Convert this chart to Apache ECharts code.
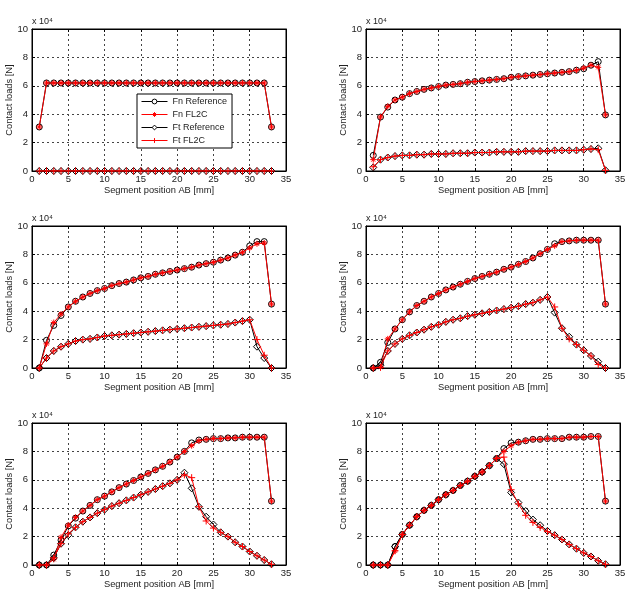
<!DOCTYPE html>
<html>
<head>
<meta charset="utf-8">
<script src="https://cdn.jsdelivr.net/npm/echarts@6/dist/echarts.min.js"></script>
<style>
  html, body { margin: 0; padding: 0; background: #fff; }
  #chart { width: 630px; height: 591px; }
</style>
</head>
<body>
<div id="chart"></div>
<script>
// segment positions along AB [mm]
const segments = [1,2,3,4,5,6,7,8,9,10,11,12,13,14,15,16,17,18,19,20,21,22,23,24,25,26,27,28,29,30,31,32,33];
const xTicks = [0, 5, 10, 15, 20, 25, 30, 35];
const yTicks = [0, 2, 4, 6, 8, 10]; // x 10^4 N

// contact loads, in units of 10^4 N
const fnRef1 = [3.1,6.2,6.2,6.2,6.2,6.2,6.2,6.2,6.2,6.2,6.2,6.2,6.2,6.2,6.2,6.2,6.2,6.2,6.2,6.2,6.2,6.2,6.2,6.2,6.2,6.2,6.2,6.2,6.2,6.2,6.2,6.2,3.1];
const fnFl2c1 = [3.1,6.2,6.2,6.2,6.2,6.2,6.2,6.2,6.2,6.2,6.2,6.2,6.2,6.2,6.2,6.2,6.2,6.2,6.2,6.2,6.2,6.2,6.2,6.2,6.2,6.2,6.2,6.2,6.2,6.2,6.2,6.2,3.1];
const ftRef1 = [0,0,0,0,0,0,0,0,0,0,0,0,0,0,0,0,0,0,0,0,0,0,0,0,0,0,0,0,0,0,0,0,0];
const ftFl2c1 = [0,0,0,0,0,0,0,0,0,0,0,0,0,0,0,0,0,0,0,0,0,0,0,0,0,0,0,0,0,0,0,0,0];

const fnRef2 = [1.1,3.8,4.5,5.0,5.2,5.45,5.6,5.75,5.85,5.95,6.05,6.1,6.15,6.25,6.3,6.35,6.4,6.45,6.5,6.6,6.65,6.7,6.75,6.8,6.85,6.9,6.95,7.0,7.1,7.2,7.45,7.7,3.95];
const fnFl2c2 = [0.8,3.8,4.55,5.0,5.2,5.45,5.6,5.75,5.85,5.95,6.05,6.1,6.15,6.25,6.3,6.35,6.4,6.45,6.5,6.6,6.65,6.7,6.75,6.8,6.85,6.9,6.95,7.0,7.1,7.25,7.45,7.3,3.95];
const ftRef2 = [0.25,0.8,0.95,1.05,1.1,1.1,1.15,1.15,1.2,1.2,1.2,1.25,1.25,1.25,1.3,1.3,1.3,1.35,1.35,1.35,1.35,1.4,1.4,1.4,1.4,1.45,1.45,1.45,1.45,1.5,1.55,1.6,0.05];
const ftFl2c2 = [0.3,0.8,0.95,1.05,1.1,1.1,1.15,1.15,1.2,1.2,1.2,1.25,1.25,1.25,1.3,1.3,1.3,1.35,1.35,1.35,1.35,1.4,1.4,1.4,1.4,1.45,1.45,1.45,1.45,1.5,1.55,1.5,0.05];

const fnRef3 = [0,1.95,3.0,3.7,4.3,4.7,5.0,5.25,5.45,5.6,5.8,5.95,6.05,6.2,6.35,6.45,6.6,6.7,6.8,6.9,7.0,7.1,7.25,7.35,7.45,7.6,7.75,7.95,8.15,8.6,8.9,8.9,4.5];
const fnFl2c3 = [0,1.7,3.2,3.8,4.3,4.7,5.0,5.25,5.45,5.6,5.8,5.95,6.05,6.2,6.35,6.45,6.6,6.7,6.8,6.9,7.0,7.1,7.25,7.35,7.45,7.6,7.75,7.95,8.15,8.45,8.75,8.8,4.5];
const ftRef3 = [0,0.7,1.2,1.5,1.7,1.9,2.0,2.05,2.15,2.25,2.3,2.35,2.4,2.45,2.5,2.55,2.6,2.65,2.7,2.75,2.8,2.85,2.9,2.95,3.0,3.05,3.1,3.2,3.3,3.4,1.5,0.7,0];
const ftFl2c3 = [0,0.7,1.2,1.5,1.7,1.9,2.0,2.05,2.15,2.25,2.3,2.35,2.4,2.45,2.5,2.55,2.6,2.65,2.7,2.75,2.8,2.85,2.9,2.95,3.0,3.05,3.1,3.2,3.3,3.4,2.0,0.9,0];

const fnRef4 = [0,0.4,1.8,2.75,3.4,3.95,4.4,4.7,5.0,5.25,5.5,5.7,5.9,6.1,6.3,6.45,6.6,6.75,6.95,7.1,7.3,7.5,7.75,8.05,8.35,8.75,8.9,8.95,9.0,9.0,9.0,9.0,4.5];
const fnFl2c4 = [0,0.05,2.05,2.75,3.4,3.95,4.4,4.7,5.0,5.25,5.5,5.7,5.9,6.1,6.3,6.45,6.6,6.75,6.95,7.1,7.3,7.5,7.75,8.05,8.35,8.6,8.9,8.95,9.0,9.0,9.0,9.0,4.5];
const ftRef4 = [0,0.2,1.2,1.7,2.05,2.3,2.5,2.7,2.9,3.05,3.25,3.4,3.5,3.65,3.75,3.85,3.95,4.05,4.15,4.25,4.35,4.5,4.6,4.8,5.0,3.9,2.8,2.2,1.65,1.25,0.85,0.45,0];
const ftFl2c4 = [0,0.05,1.2,1.7,2.05,2.3,2.5,2.7,2.9,3.05,3.25,3.4,3.5,3.65,3.75,3.85,3.95,4.05,4.15,4.25,4.35,4.5,4.6,4.8,5.0,4.3,2.8,2.05,1.65,1.25,0.85,0.25,0];

const fnRef5 = [0,0,0.7,1.75,2.75,3.3,3.8,4.2,4.6,4.85,5.15,5.45,5.7,5.95,6.2,6.45,6.7,6.95,7.25,7.6,8.0,8.6,8.8,8.85,8.9,8.9,8.95,8.95,9.0,9.0,9.0,9.0,4.5];
const fnFl2c5 = [0,0,0.4,1.95,2.8,3.35,3.8,4.2,4.6,4.85,5.15,5.45,5.7,5.95,6.2,6.45,6.7,6.95,7.25,7.6,8.0,8.4,8.75,8.85,8.9,8.9,8.95,8.95,9.0,9.0,9.0,9.0,4.5];
const ftRef5 = [0,0,0.5,1.5,2.1,2.65,3.05,3.35,3.65,3.9,4.15,4.35,4.55,4.75,4.95,5.15,5.35,5.55,5.75,6.0,6.5,5.4,4.1,3.4,2.85,2.3,2.0,1.6,1.3,0.95,0.65,0.35,0.05];
const ftFl2c5 = [0,0,0.5,1.5,2.2,2.65,3.05,3.35,3.65,3.9,4.15,4.35,4.55,4.75,4.95,5.15,5.35,5.55,5.75,6.0,6.35,6.15,4.1,3.1,2.6,2.3,2.0,1.6,1.3,0.95,0.65,0.35,0.05];

const fnRef6 = [0,0,0,1.3,2.15,2.8,3.4,3.85,4.2,4.6,4.95,5.25,5.6,5.9,6.25,6.55,7.0,7.5,8.2,8.6,8.65,8.75,8.85,8.85,8.9,8.9,8.9,9.0,9.0,9.0,9.05,9.05,4.5];
const fnFl2c6 = [0,0,0,1.0,2.15,2.8,3.4,3.85,4.2,4.6,4.95,5.25,5.6,5.9,6.25,6.55,7.0,7.5,8.0,8.4,8.65,8.75,8.85,8.85,8.9,8.9,8.9,9.0,9.0,9.0,9.05,9.05,4.5];
const ftRef6 = [0,0,0,1.3,2.15,2.8,3.4,3.85,4.2,4.6,4.95,5.25,5.6,5.9,6.25,6.55,7.0,7.5,7.1,5.1,4.4,3.8,3.2,2.8,2.4,2.1,1.8,1.45,1.15,0.85,0.6,0.3,0.05];
const ftFl2c6 = [0,0,0,1.0,2.15,2.8,3.4,3.85,4.2,4.6,4.95,5.25,5.6,5.9,6.25,6.55,7.0,7.5,7.6,5.3,4.3,3.5,3.0,2.65,2.35,2.1,1.8,1.45,1.15,0.85,0.6,0.3,0.05];

const seriesNames = ['Fn Reference', 'Fn FL2C', 'Ft Reference', 'Ft FL2C'];
const panels = [
  [fnRef1, fnFl2c1, ftRef1, ftFl2c1],
  [fnRef2, fnFl2c2, ftRef2, ftFl2c2],
  [fnRef3, fnFl2c3, ftRef3, ftFl2c3],
  [fnRef4, fnFl2c4, ftRef4, ftFl2c4],
  [fnRef5, fnFl2c5, ftRef5, ftFl2c5],
  [fnRef6, fnFl2c6, ftRef6, ftFl2c6]
];

// subplot boxes (px)
const lefts = [32, 366];
const tops = [29, 226, 423];
const plotW = 254, plotH = 142;

const font = '"Liberation Sans", Arial, sans-serif';
const textCol = '#222';
const clear = 'rgba(0,0,0,0)';
const plusPath = 'path://M3.5,0V7M0,3.5H7';
const starPath = 'path://M3,0V6M0,3H6M1,1L5,5M1,5L5,1';

const styles = [
  { symbol: 'circle', symbolSize: 6, color: '#000' },
  { symbol: starPath, symbolSize: 6, color: '#f00' },
  { symbol: 'diamond', symbolSize: 7, color: '#000' },
  { symbol: plusPath, symbolSize: 7, color: '#f00' }
];

const grid = [], xAxis = [], yAxis = [], series = [], graphic = [];

panels.forEach(function (panel, p) {
  const gl = lefts[p % 2], gt = tops[Math.floor(p / 2)];
  grid.push({ left: gl, top: gt, width: plotW, height: plotH, show: true, borderColor: '#000', borderWidth: 1, backgroundColor: '#fff' });

  const xi = xAxis.length, yi = yAxis.length;
  xAxis.push({
    type: 'value', gridIndex: p, min: xTicks[0], max: xTicks[xTicks.length - 1], interval: 5,
    name: 'Segment position AB [mm]', nameLocation: 'middle', nameGap: 15,
    nameTextStyle: { fontFamily: font, fontSize: 9.3, color: textCol },
    axisLine: { show: true, onZero: false, lineStyle: { color: '#000', width: 1 } },
    axisTick: { show: true, inside: true, length: 3, lineStyle: { color: '#000' } },
    axisLabel: { fontFamily: font, fontSize: 9.5, color: textCol, margin: 3 },
    splitLine: { show: true, lineStyle: { color: '#444', type: [2, 3], width: 1 } }
  });
  xAxis.push({
    type: 'value', gridIndex: p, position: 'top', min: 0, max: 35, interval: 5,
    axisLine: { show: true, onZero: false, lineStyle: { color: '#000' } },
    axisTick: { show: true, inside: true, length: 3, lineStyle: { color: '#000' } },
    axisLabel: { show: false }, splitLine: { show: false }
  });
  yAxis.push({
    type: 'value', gridIndex: p, min: yTicks[0], max: yTicks[yTicks.length - 1], interval: 2,
    name: 'Contact loads [N]', nameLocation: 'middle', nameGap: 17,
    nameTextStyle: { fontFamily: font, fontSize: 9.3, color: textCol },
    axisLine: { show: true, onZero: false, lineStyle: { color: '#000', width: 1 } },
    axisTick: { show: true, inside: true, length: 3, lineStyle: { color: '#000' } },
    axisLabel: { fontFamily: font, fontSize: 9.5, color: textCol, margin: 4 },
    splitLine: { show: true, lineStyle: { color: '#444', type: [2, 3], width: 1 } }
  });
  yAxis.push({
    type: 'value', gridIndex: p, position: 'right', min: 0, max: 10, interval: 2,
    axisLine: { show: true, onZero: false, lineStyle: { color: '#000' } },
    axisTick: { show: true, inside: true, length: 3, lineStyle: { color: '#000' } },
    axisLabel: { show: false }, splitLine: { show: false }
  });

  panel.forEach(function (values, s) {
    const st = styles[s];
    series.push({
      name: seriesNames[s], type: 'line', xAxisIndex: xi, yAxisIndex: yi,
      data: segments.map(function (x, i) { return [x, values[i]]; }),
      symbol: st.symbol, symbolSize: st.symbolSize, showAllSymbol: true,
      lineStyle: { color: st.color, width: 1 },
      itemStyle: { color: clear, borderColor: st.color, borderWidth: 1 },
      emphasis: { disabled: true },
      z: 2 + s
    });
  });

  graphic.push({
    type: 'text', left: gl, top: gt - 12,
    style: { text: 'x 10\u2074', fontFamily: font, fontSize: 9, fill: textCol }
  });
});

const legendData = seriesNames.map(function (name, s) {
  return {
    name: name,
    itemStyle: { color: s === 0 || s === 2 ? '#fff' : clear, borderColor: styles[s].color, borderWidth: 1 },
    lineStyle: { color: styles[s].color, width: 1 }
  };
});

const chart = echarts.init(document.getElementById('chart'));
chart.setOption({
  animation: false,
  backgroundColor: '#fff',
  grid: grid,
  xAxis: xAxis,
  yAxis: yAxis,
  series: series,
  graphic: graphic,
  legend: {
    data: legendData, orient: 'vertical', left: 137, top: 94,
    itemWidth: 26, itemHeight: 6, itemGap: 4, padding: [3, 5, 3, 4],
    backgroundColor: '#fff', borderColor: '#000', borderWidth: 1,
    textStyle: { fontFamily: font, fontSize: 9, color: textCol },
    z: 10
  }
});
</script>
</body>
</html>
